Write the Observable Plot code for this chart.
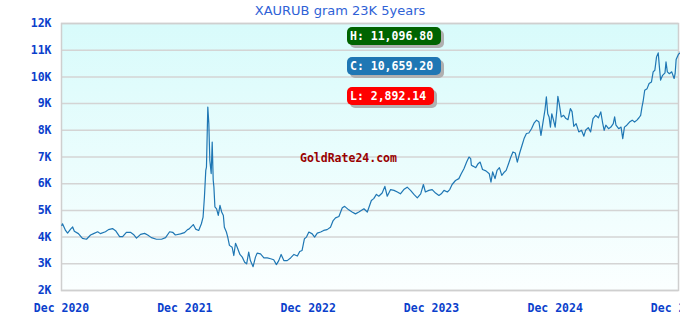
<!DOCTYPE html>
<html>
<head>
<meta charset="utf-8">
<script src="https://cdn.jsdelivr.net/npm/d3@7"></script>
<script src="https://cdn.jsdelivr.net/npm/@observablehq/plot@0.6"></script>
<style>
  html, body { margin: 0; padding: 0; background: #fff; }
  #wrap { position: relative; width: 680px; height: 320px; overflow: hidden; }
  #title { height: 20px; line-height: 22px; text-align: center; font-family: "DejaVu Sans", sans-serif; font-size: 13px; color: #2f62d6; }
  .box { position: absolute; left: 347px; height: 18px; line-height: 19px; padding: 0 8px 0 3px; border-radius: 5px;
         color: #fff; font-family: "DejaVu Sans Mono", monospace; font-weight: bold; font-size: 11.5px; box-shadow: 3px 3px 0 #b0b0b0; white-space: pre; }
  #wm { position: absolute; left: 300px; top: 151px; line-height: 14px; color: #990000; font-family: "DejaVu Sans Mono", monospace; font-weight: bold; font-size: 11.5px; }
</style>
</head>
<body>
<div id="wrap">
  <div id="title">XAURUB gram 23K 5years</div>
  <div id="chart"></div>
  <div id="wm">GoldRate24.com</div>
  <div class="box" id="hbox" style="top:27px;background:#006400"></div>
  <div class="box" id="cbox" style="top:57px;background:#1f77b4"></div>
  <div class="box" id="lbox" style="top:87px;background:#ff0000"></div>
</div>
<script>
const dates = [
"2020-12-02","2020-12-04","2020-12-13","2020-12-19","2020-12-28","2021-01-03","2021-01-08","2021-01-20","2021-02-01","2021-02-13",
"2021-02-25","2021-03-06","2021-03-18","2021-03-26","2021-04-10","2021-04-19","2021-05-01","2021-05-10","2021-05-22","2021-05-31",
"2021-06-11","2021-06-23","2021-07-02","2021-07-11","2021-07-23","2021-08-04","2021-08-13","2021-08-24","2021-09-08","2021-09-23",
"2021-10-05","2021-10-17","2021-10-26","2021-11-03","2021-11-18","2021-11-30","2021-12-09","2021-12-13","2021-12-26","2022-01-02",
"2022-01-11","2022-01-19","2022-01-24","2022-01-28","2022-02-01","2022-02-03","2022-02-07","2022-02-10","2022-02-13","2022-02-17",
"2022-02-20","2022-02-23","2022-02-25","2022-02-28","2022-03-05","2022-03-10","2022-03-15","2022-03-20","2022-03-25","2022-03-28",
"2022-04-03","2022-04-07","2022-04-12","2022-04-20","2022-04-25","2022-04-30","2022-05-05","2022-05-13","2022-05-20","2022-05-27",
"2022-06-02","2022-06-08","2022-06-13","2022-06-21","2022-06-28","2022-07-03","2022-07-13","2022-07-23","2022-08-02","2022-08-12",
"2022-08-21","2022-08-29","2022-09-05","2022-09-12","2022-09-20","2022-09-30","2022-10-10","2022-10-20","2022-10-30","2022-11-06",
"2022-11-13","2022-11-20","2022-11-26","2022-12-03","2022-12-13","2022-12-20","2022-12-28","2023-01-07","2023-01-16","2023-01-26",
"2023-02-05","2023-02-13","2023-02-20","2023-03-02","2023-03-12","2023-03-19","2023-03-31","2023-04-10","2023-04-20","2023-04-30",
"2023-05-15","2023-05-25","2023-05-30","2023-06-06","2023-06-13","2023-06-21","2023-06-28","2023-07-08","2023-07-16","2023-07-23",
"2023-08-02","2023-08-12","2023-08-22","2023-08-31","2023-09-10","2023-09-20","2023-09-30","2023-10-10","2023-10-20","2023-10-30",
"2023-11-07","2023-11-13","2023-11-23","2023-12-03","2023-12-13","2023-12-23","2023-12-30","2024-01-07","2024-01-17","2024-01-24",
"2024-01-31","2024-02-10","2024-02-20","2024-02-27","2024-03-06","2024-03-14","2024-03-21","2024-03-26","2024-03-28","2024-04-03",
"2024-04-10","2024-04-17","2024-04-23","2024-04-30","2024-05-10","2024-05-20","2024-05-25","2024-05-30","2024-06-06","2024-06-12",
"2024-06-19","2024-06-26","2024-07-04","2024-07-09","2024-07-16","2024-07-22","2024-07-29","2024-08-05","2024-08-11","2024-08-18",
"2024-08-25","2024-08-31","2024-09-07","2024-09-14","2024-09-22","2024-09-30","2024-10-07","2024-10-14","2024-10-20","2024-10-27",
"2024-11-01","2024-11-05","2024-11-09","2024-11-13","2024-11-17","2024-11-21","2024-11-26","2024-12-01","2024-12-06","2024-12-09",
"2024-12-13","2024-12-19","2024-12-26","2025-01-02","2025-01-08","2025-01-15","2025-01-20","2025-01-25","2025-02-01","2025-02-09",
"2025-02-17","2025-02-24","2025-03-01","2025-03-09","2025-03-16","2025-03-23","2025-03-31","2025-04-08","2025-04-15","2025-04-20",
"2025-04-25","2025-04-30","2025-05-08","2025-05-15","2025-05-22","2025-05-26","2025-05-30","2025-06-07","2025-06-14","2025-06-19",
"2025-06-24","2025-07-01","2025-07-09","2025-07-17","2025-07-24","2025-07-31","2025-08-06","2025-08-11","2025-08-15","2025-08-18",
"2025-08-23","2025-08-30","2025-09-05","2025-09-12","2025-09-17","2025-09-22","2025-09-27","2025-10-02","2025-10-05","2025-10-09",
"2025-10-15","2025-10-22","2025-10-25","2025-10-29","2025-11-04","2025-11-11","2025-11-18","2025-11-21","2025-11-24","2025-12-01",
"2025-12-06","2025-12-09","2025-12-14"
];
const prices = [
4434,4500,4250,4150,4300,4380,4220,4130,3950,3920,
4080,4130,4200,4130,4200,4280,4320,4240,4020,4020,
4180,4180,4100,3960,4100,4140,4080,3980,3920,3920,
3980,4200,4180,4080,4120,4170,4280,4300,4470,4300,
4250,4500,4750,5500,6500,6620,8870,8250,6870,6380,
7560,6130,5880,5130,5060,4810,5190,4940,4810,4370,
4190,4000,3690,3620,3310,3770,3620,3350,3250,3060,
3000,3440,3120,2892.14,3250,3400,3370,3220,3220,3190,
3150,2970,3120,3350,3120,3120,3220,3350,3290,3460,
3500,3940,4000,4190,4120,4000,4150,4190,4250,4280,
4370,4620,4720,4770,5100,5150,5020,4940,4870,4940,
5060,4940,5120,5370,5440,5600,5530,5650,5900,5530,
5780,5750,5690,5620,5780,5870,5750,5600,5470,5620,
5970,5690,5750,5780,5650,5560,5620,5750,5690,5780,
5970,6120,6190,6370,6560,6810,7000,6940,6690,6650,
6600,6750,6810,6530,6480,6370,6060,6440,6190,6500,
6600,6310,6440,6500,6750,6970,7190,7150,6810,7150,
7440,7690,7880,7900,8060,8280,8380,8310,7810,8380,
8780,9250,8620,8500,8120,8620,8380,8120,8750,9270,
9000,8500,8560,8440,8400,8810,8700,8150,8250,7940,
8000,7780,8000,8100,7940,8440,8560,8470,8690,8310,
8000,8190,8060,8120,8250,8500,8190,8060,8120,7690,
8120,8190,8310,8380,8310,8380,8470,8560,8880,9060,
9500,9560,9750,9810,10190,10250,10750,10900,10440,9880,
10060,10150,10560,10190,10120,10190,9940,10120,10650,10850,
10900,11096.80,10659.20
];
const xTickDates = ["2020-12-01","2021-12-01","2022-12-01","2023-12-01","2024-12-01","2025-12-01"];
const xTickLabels = ["Dec 2020","Dec 2021","Dec 2022","Dec 2023","Dec 2024","Dec 2025"];
const yTicks = [2000,3000,4000,5000,6000,7000,8000,9000,10000,11000,12000];
const yTickLabels = ["2K","3K","4K","5K","6K","7K","8K","9K","10K","11K","12K"];

const data = dates.map((d, i) => ({date: new Date(d + "T00:00:00Z"), value: prices[i]}));
const xTicks = xTickDates.map(d => new Date(d + "T00:00:00Z"));

const chart = Plot.plot({
  width: 680,
  height: 300,
  marginLeft: 61,
  marginRight: 2,
  marginTop: 3,
  marginBottom: 30,
  style: {fontFamily: "'DejaVu Sans Mono', monospace", fontWeight: "bold", fontSize: "11.5px", color: "#0b3fcc", background: "transparent", overflow: "visible"},
  x: {type: "utc", domain: [xTicks[0], xTicks[xTicks.length - 1]]},
  y: {domain: [2000, 12000]},
  marks: [
    Plot.frame({fill: "url(#bggrad)", stroke: null}),
    Plot.gridY(yTicks, {stroke: "#d4d4d4", strokeOpacity: 1, strokeWidth: 1.5}),
    Plot.frame({stroke: "#cfcfcf", strokeWidth: 1.5}),
    Plot.line(data, {x: "date", y: "value", stroke: "#1f77b4", strokeWidth: 1.2, clip: false}),
    Plot.axisX({ticks: xTicks, tickSize: 0, tickPadding: 13, tickFormat: (d, i) => xTickLabels[i], label: null}),
    Plot.axisY({ticks: yTicks, tickSize: 0, tickPadding: 10, tickFormat: (d, i) => yTickLabels[i], label: null})
  ]
});

const defs = document.createElementNS("http://www.w3.org/2000/svg", "defs");
defs.innerHTML = '<linearGradient id="bggrad" x1="0" y1="0" x2="0" y2="1">' +
  '<stop offset="0%" stop-color="#d8fbfb"/><stop offset="100%" stop-color="#fbffff"/></linearGradient>';
chart.insertBefore(defs, chart.firstChild);
document.getElementById("chart").appendChild(chart);

const fmt = d3.format(",.2f");
document.getElementById("hbox").textContent = "H: " + fmt(d3.max(prices));
document.getElementById("cbox").textContent = "C: " + fmt(prices[prices.length - 1]);
document.getElementById("lbox").textContent = "L: " + fmt(d3.min(prices));
</script>
</body>
</html>
